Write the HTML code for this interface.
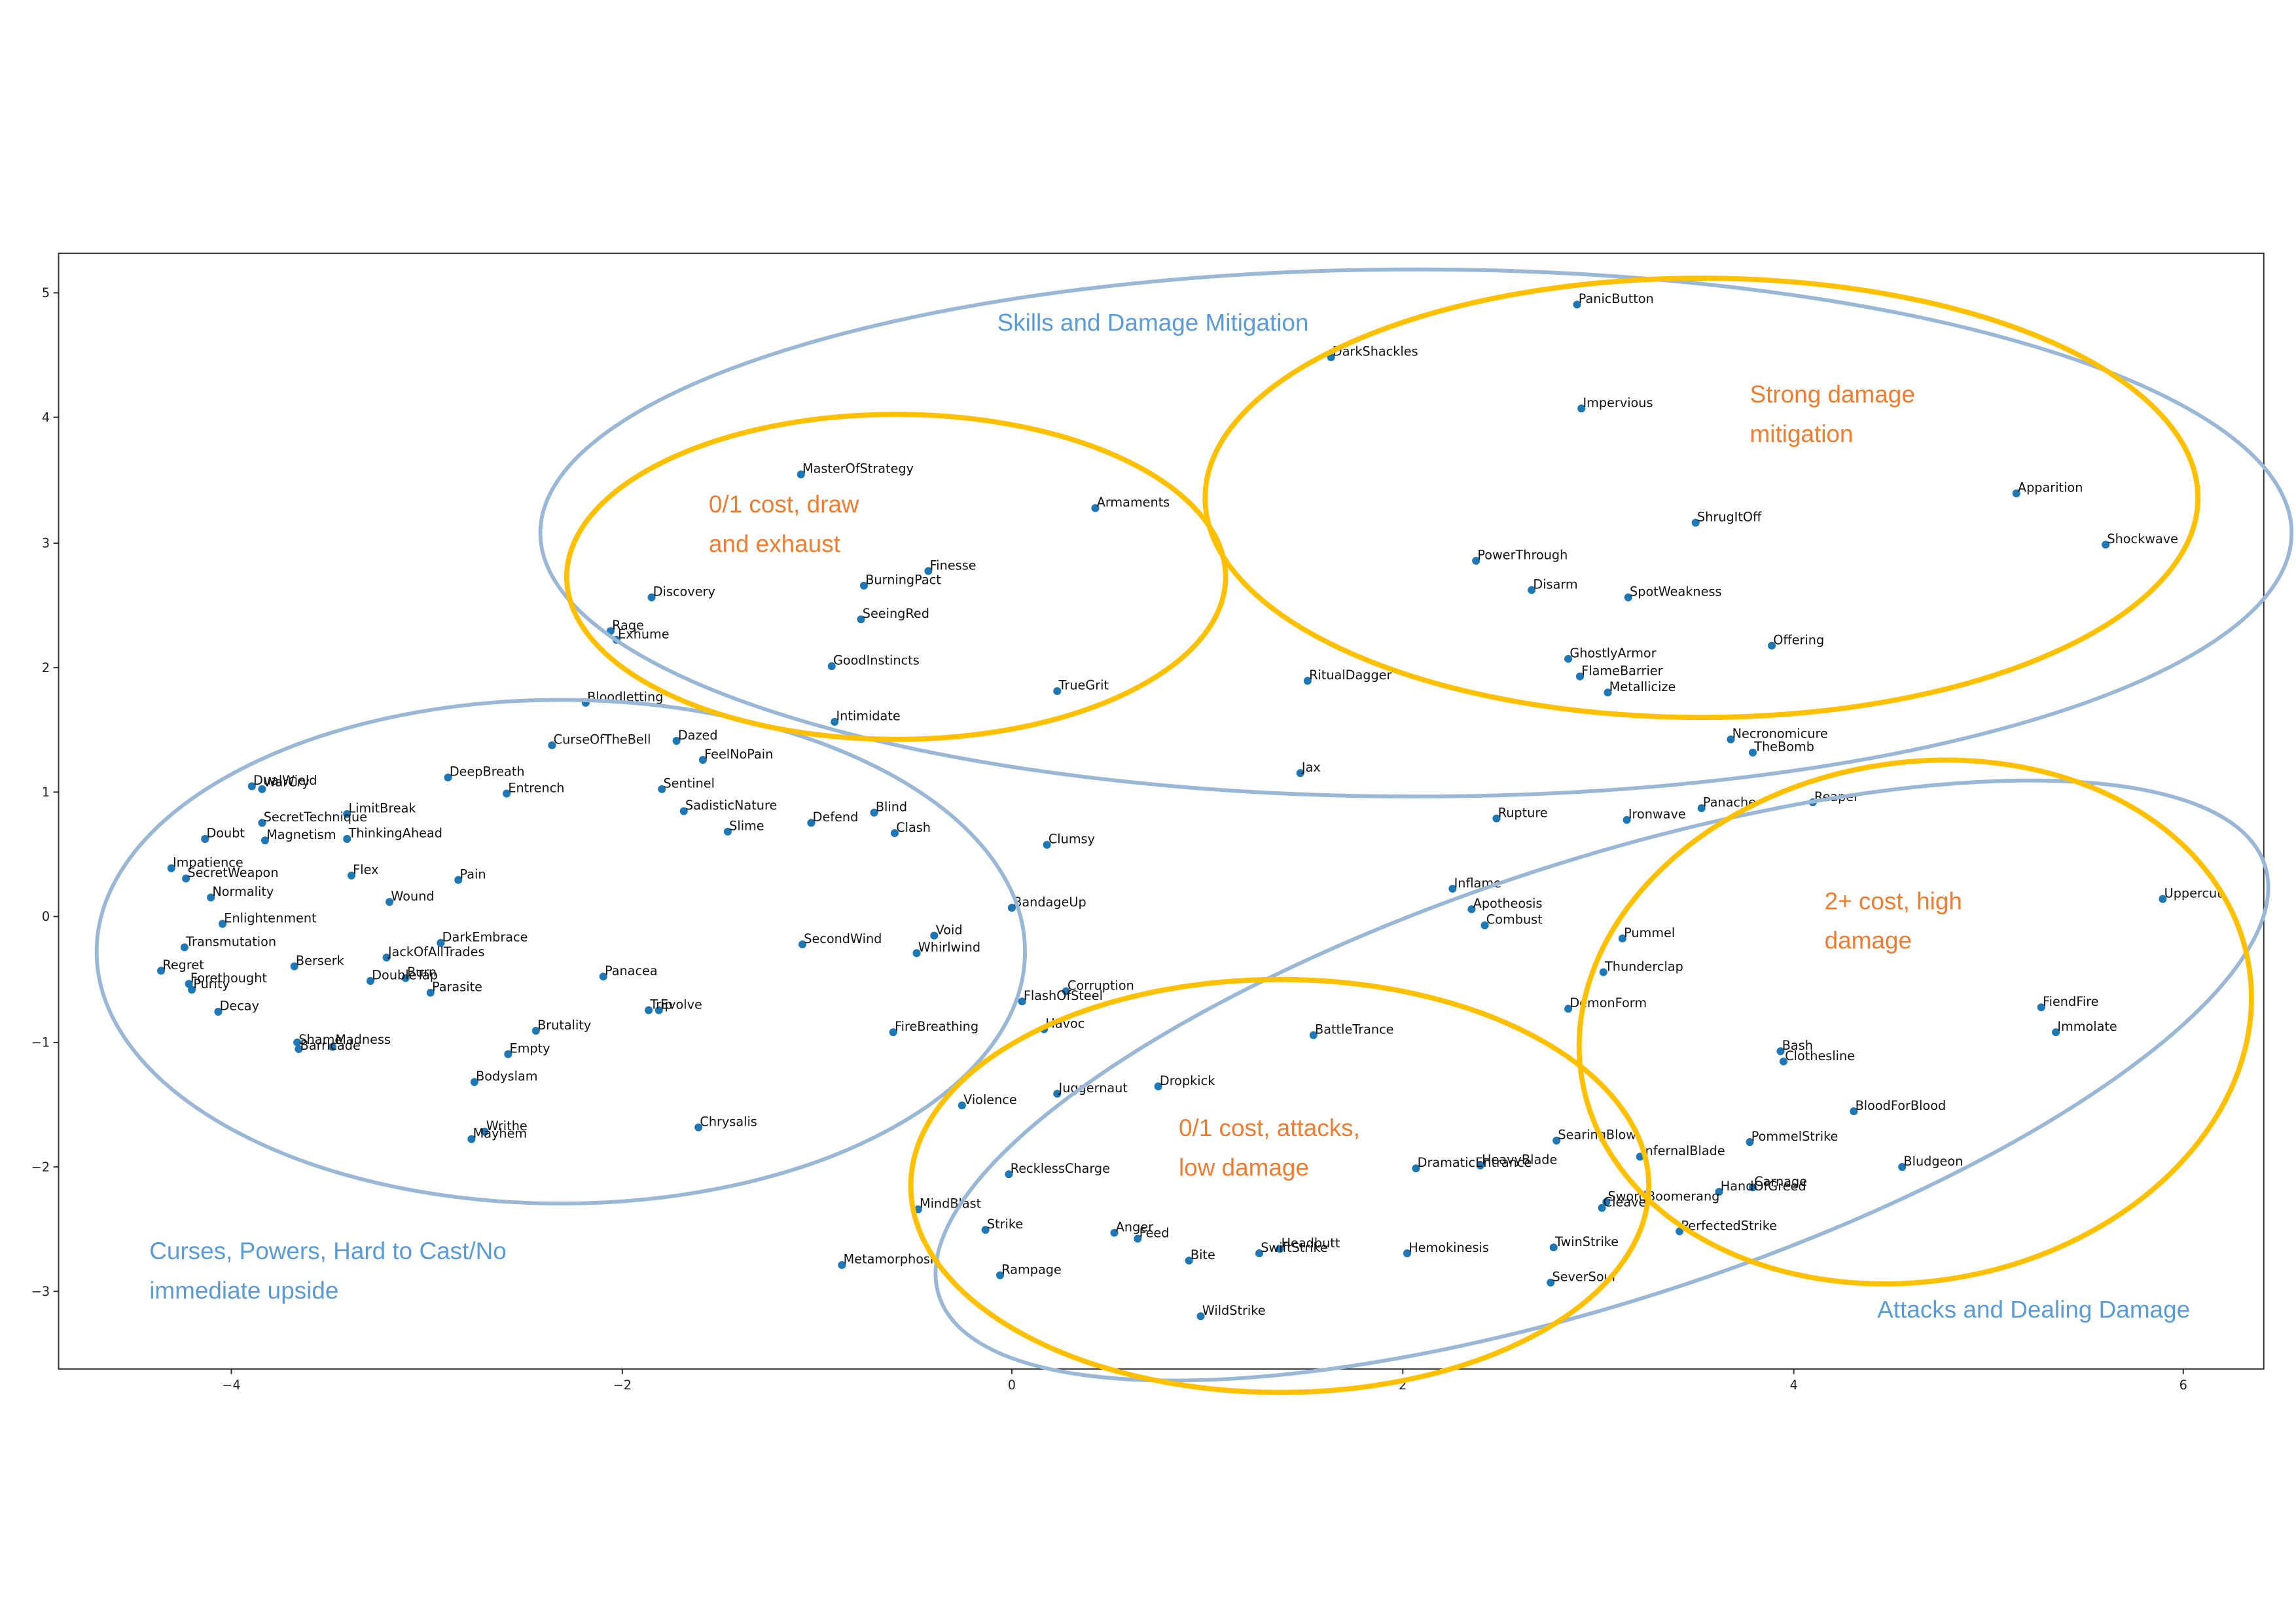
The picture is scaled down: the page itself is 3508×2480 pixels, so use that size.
<!DOCTYPE html>
<html><head><meta charset="utf-8"><style>
html,body{margin:0;padding:0;background:#fff;width:3508px;height:2480px;overflow:hidden}
svg{display:block}
.l{font-family:"DejaVu Sans","Liberation Sans",sans-serif;font-size:8.6px;fill:#111}
.t{font-family:"DejaVu Sans","Liberation Sans",sans-serif;font-size:8.6px;fill:#222}
.a{font-family:"Liberation Sans",sans-serif;font-size:16.5px}
.o{fill:#ed7d31}.b{fill:#5b9bd5}
</style></head><body>
<svg width="3508" height="2480" viewBox="0 0 1568 1108.5" xmlns="http://www.w3.org/2000/svg">
<rect x="0" y="0" width="1568" height="1108.5" fill="#fff"/>
<rect x="40" y="173" width="1506" height="762" fill="none" stroke="#333" stroke-width="0.9"/>
<g stroke="#333" stroke-width="0.9">
<line x1="36.5" y1="200" x2="40" y2="200"/><line x1="36.5" y1="285" x2="40" y2="285"/><line x1="36.5" y1="371" x2="40" y2="371"/><line x1="36.5" y1="456" x2="40" y2="456"/><line x1="36.5" y1="541" x2="40" y2="541"/><line x1="36.5" y1="626" x2="40" y2="626"/><line x1="36.5" y1="712" x2="40" y2="712"/><line x1="36.5" y1="797" x2="40" y2="797"/><line x1="36.5" y1="882" x2="40" y2="882"/>
<line x1="158" y1="935" x2="158" y2="938.5"/><line x1="425" y1="935" x2="425" y2="938.5"/><line x1="691" y1="935" x2="691" y2="938.5"/><line x1="958" y1="935" x2="958" y2="938.5"/><line x1="1225" y1="935" x2="1225" y2="938.5"/><line x1="1491" y1="935" x2="1491" y2="938.5"/>
</g>
<g class="t" text-anchor="end">
<text x="34" y="203">5</text><text x="34" y="288">4</text><text x="34" y="374">3</text><text x="34" y="459">2</text><text x="34" y="544">1</text><text x="34" y="629">0</text><text x="34" y="715">−1</text><text x="34" y="800">−2</text><text x="34" y="885">−3</text>
</g>
<g class="t" text-anchor="middle">
<text x="158" y="949">−4</text><text x="425" y="949">−2</text><text x="691" y="949">0</text><text x="958" y="949">2</text><text x="1225" y="949">4</text><text x="1491" y="949">6</text>
</g>

<g fill="#1f77b4">
<circle cx="1077" cy="208" r="2.7"/><circle cx="909" cy="244" r="2.7"/><circle cx="1080" cy="279" r="2.7"/><circle cx="547" cy="324" r="2.7"/><circle cx="748" cy="347" r="2.7"/><circle cx="1377" cy="337" r="2.7"/><circle cx="1158" cy="357" r="2.7"/><circle cx="1438" cy="372" r="2.7"/><circle cx="1008" cy="383" r="2.7"/><circle cx="634" cy="390" r="2.7"/><circle cx="590" cy="400" r="2.7"/><circle cx="1046" cy="403" r="2.7"/><circle cx="1112" cy="408" r="2.7"/><circle cx="445" cy="408" r="2.7"/><circle cx="588" cy="423" r="2.7"/><circle cx="1210" cy="441" r="2.7"/><circle cx="417" cy="431" r="2.7"/><circle cx="421" cy="437" r="2.7"/><circle cx="1071" cy="450" r="2.7"/><circle cx="568" cy="455" r="2.7"/><circle cx="1079" cy="462" r="2.7"/><circle cx="893" cy="465" r="2.7"/><circle cx="1098" cy="473" r="2.7"/><circle cx="722" cy="472" r="2.7"/><circle cx="400" cy="480" r="2.7"/><circle cx="570" cy="493" r="2.7"/><circle cx="1182" cy="505" r="2.7"/><circle cx="377" cy="509" r="2.7"/><circle cx="462" cy="506" r="2.7"/><circle cx="1197" cy="514" r="2.7"/><circle cx="480" cy="519" r="2.7"/><circle cx="888" cy="528" r="2.7"/><circle cx="306" cy="531" r="2.7"/><circle cx="172" cy="537" r="2.7"/><circle cx="179" cy="539" r="2.7"/><circle cx="452" cy="539" r="2.7"/><circle cx="346" cy="542" r="2.7"/><circle cx="1238" cy="548" r="2.7"/><circle cx="1162" cy="552" r="2.7"/><circle cx="467" cy="554" r="2.7"/><circle cx="237" cy="556" r="2.7"/><circle cx="597" cy="555" r="2.7"/><circle cx="1022" cy="559" r="2.7"/><circle cx="1111" cy="560" r="2.7"/><circle cx="179" cy="562" r="2.7"/><circle cx="554" cy="562" r="2.7"/><circle cx="497" cy="568" r="2.7"/><circle cx="237" cy="573" r="2.7"/><circle cx="611" cy="569" r="2.7"/><circle cx="140" cy="573" r="2.7"/><circle cx="181" cy="574" r="2.7"/><circle cx="715" cy="577" r="2.7"/><circle cx="117" cy="593" r="2.7"/><circle cx="240" cy="598" r="2.7"/><circle cx="127" cy="600" r="2.7"/><circle cx="313" cy="601" r="2.7"/><circle cx="992" cy="607" r="2.7"/><circle cx="144" cy="613" r="2.7"/><circle cx="1477" cy="614" r="2.7"/><circle cx="266" cy="616" r="2.7"/><circle cx="691" cy="620" r="2.7"/><circle cx="1005" cy="621" r="2.7"/><circle cx="152" cy="631" r="2.7"/><circle cx="1014" cy="632" r="2.7"/><circle cx="638" cy="639" r="2.7"/><circle cx="1108" cy="641" r="2.7"/><circle cx="301" cy="644" r="2.7"/><circle cx="548" cy="645" r="2.7"/><circle cx="126" cy="647" r="2.7"/><circle cx="626" cy="651" r="2.7"/><circle cx="264" cy="654" r="2.7"/><circle cx="110" cy="663" r="2.7"/><circle cx="201" cy="660" r="2.7"/><circle cx="1095" cy="664" r="2.7"/><circle cx="412" cy="667" r="2.7"/><circle cx="277" cy="668" r="2.7"/><circle cx="253" cy="670" r="2.7"/><circle cx="129" cy="672" r="2.7"/><circle cx="131" cy="676" r="2.7"/><circle cx="294" cy="678" r="2.7"/><circle cx="728" cy="677" r="2.7"/><circle cx="698" cy="684" r="2.7"/><circle cx="443" cy="690" r="2.7"/><circle cx="450" cy="690" r="2.7"/><circle cx="1071" cy="689" r="2.7"/><circle cx="1394" cy="688" r="2.7"/><circle cx="149" cy="691" r="2.7"/><circle cx="366" cy="704" r="2.7"/><circle cx="610" cy="705" r="2.7"/><circle cx="713" cy="703" r="2.7"/><circle cx="1404" cy="705" r="2.7"/><circle cx="897" cy="707" r="2.7"/><circle cx="203" cy="712" r="2.7"/><circle cx="204" cy="716.5" r="2.7"/><circle cx="227" cy="715" r="2.7"/><circle cx="347" cy="720" r="2.7"/><circle cx="1216" cy="718" r="2.7"/><circle cx="1218" cy="725" r="2.7"/><circle cx="324" cy="739" r="2.7"/><circle cx="791" cy="742" r="2.7"/><circle cx="722" cy="747" r="2.7"/><circle cx="657" cy="755" r="2.7"/><circle cx="1266" cy="759" r="2.7"/><circle cx="477" cy="770" r="2.7"/><circle cx="331" cy="773" r="2.7"/><circle cx="322" cy="778" r="2.7"/><circle cx="1063" cy="779" r="2.7"/><circle cx="1195" cy="780" r="2.7"/><circle cx="1120" cy="790" r="2.7"/><circle cx="967" cy="798" r="2.7"/><circle cx="1011" cy="796" r="2.7"/><circle cx="689" cy="802" r="2.7"/><circle cx="1299" cy="797" r="2.7"/><circle cx="1174" cy="814" r="2.7"/><circle cx="1197" cy="811" r="2.7"/><circle cx="1097" cy="821" r="2.7"/><circle cx="1094" cy="825" r="2.7"/><circle cx="627" cy="826" r="2.7"/><circle cx="1147" cy="841" r="2.7"/><circle cx="673" cy="840" r="2.7"/><circle cx="761" cy="842" r="2.7"/><circle cx="777" cy="846" r="2.7"/><circle cx="1061" cy="852" r="2.7"/><circle cx="874" cy="853" r="2.7"/><circle cx="860" cy="856" r="2.7"/><circle cx="961" cy="856" r="2.7"/><circle cx="812" cy="861" r="2.7"/><circle cx="575" cy="864" r="2.7"/><circle cx="683" cy="871" r="2.7"/><circle cx="1059" cy="876" r="2.7"/><circle cx="820" cy="899" r="2.7"/>
</g>
<g class="l">
<text x="1078" y="207">PanicButton</text><text x="910" y="243">DarkShackles</text><text x="1081" y="278">Impervious</text><text x="548" y="323">MasterOfStrategy</text><text x="749" y="346">Armaments</text><text x="1378" y="336">Apparition</text><text x="1159" y="356">ShrugItOff</text><text x="1439" y="371">Shockwave</text><text x="1009" y="382">PowerThrough</text><text x="635" y="389">Finesse</text><text x="591" y="399">BurningPact</text><text x="1047" y="402">Disarm</text><text x="1113" y="407">SpotWeakness</text><text x="446" y="407">Discovery</text><text x="589" y="422">SeeingRed</text><text x="1211" y="440">Offering</text><text x="418" y="430">Rage</text><text x="422" y="436">Exhume</text><text x="1072" y="449">GhostlyArmor</text><text x="569" y="454">GoodInstincts</text><text x="1080" y="461">FlameBarrier</text><text x="894" y="464">RitualDagger</text><text x="1099" y="472">Metallicize</text><text x="723" y="471">TrueGrit</text><text x="401" y="479">Bloodletting</text><text x="571" y="492">Intimidate</text><text x="1183" y="504">Necronomicure</text><text x="378" y="508">CurseOfTheBell</text><text x="463" y="505">Dazed</text><text x="1198" y="513">TheBomb</text><text x="481" y="518">FeelNoPain</text><text x="889" y="527">Jax</text><text x="307" y="530">DeepBreath</text><text x="173" y="536">DualWield</text><text x="180" y="537">WarCry</text><text x="453" y="538">Sentinel</text><text x="347" y="541">Entrench</text><text x="1239" y="547">Reaper</text><text x="1163" y="551">Panache</text><text x="468" y="553">SadisticNature</text><text x="238" y="555">LimitBreak</text><text x="598" y="554">Blind</text><text x="1023" y="558">Rupture</text><text x="1112" y="559">Ironwave</text><text x="180" y="561">SecretTechnique</text><text x="555" y="561">Defend</text><text x="498" y="567">Slime</text><text x="238" y="572">ThinkingAhead</text><text x="612" y="568">Clash</text><text x="141" y="572">Doubt</text><text x="182" y="573">Magnetism</text><text x="716" y="576">Clumsy</text><text x="118" y="592">Impatience</text><text x="241" y="597">Flex</text><text x="128" y="599">SecretWeapon</text><text x="314" y="600">Pain</text><text x="993" y="606">Inflame</text><text x="145" y="612">Normality</text><text x="1478" y="613">Uppercut</text><text x="267" y="615">Wound</text><text x="692" y="619">BandageUp</text><text x="1006" y="620">Apotheosis</text><text x="153" y="630">Enlightenment</text><text x="1015" y="631">Combust</text><text x="639" y="638">Void</text><text x="1109" y="640">Pummel</text><text x="302" y="643">DarkEmbrace</text><text x="549" y="644">SecondWind</text><text x="127" y="646">Transmutation</text><text x="627" y="650">Whirlwind</text><text x="265" y="653">JackOfAllTrades</text><text x="111" y="662">Regret</text><text x="202" y="659">Berserk</text><text x="1096" y="663">Thunderclap</text><text x="413" y="666">Panacea</text><text x="278" y="667">Burn</text><text x="254" y="669">DoubleTap</text><text x="130" y="671">Forethought</text><text x="132" y="675">Purity</text><text x="295" y="677">Parasite</text><text x="729" y="676">Corruption</text><text x="699" y="683">FlashOfSteel</text><text x="444" y="689">Trip</text><text x="451" y="689">Evolve</text><text x="1072" y="688">DemonForm</text><text x="1395" y="687">FiendFire</text><text x="150" y="690">Decay</text><text x="367" y="703">Brutality</text><text x="611" y="704">FireBreathing</text><text x="714" y="702">Havoc</text><text x="1405" y="704">Immolate</text><text x="898" y="706">BattleTrance</text><text x="204" y="713">Shame</text><text x="205" y="717">Barricade</text><text x="229" y="713">Madness</text><text x="348" y="719">Empty</text><text x="1217" y="717">Bash</text><text x="1219" y="724">Clothesline</text><text x="325" y="738">Bodyslam</text><text x="792" y="741">Dropkick</text><text x="723" y="746">Juggernaut</text><text x="658" y="754">Violence</text><text x="1267" y="758">BloodForBlood</text><text x="478" y="769">Chrysalis</text><text x="332" y="772">Writhe</text><text x="323" y="777">Mayhem</text><text x="1064" y="778">SearingBlow</text><text x="1196" y="779">PommelStrike</text><text x="1121" y="789">InfernalBlade</text><text x="968" y="797">DramaticEntrance</text><text x="1012" y="795">HeavyBlade</text><text x="690" y="801">RecklessCharge</text><text x="1300" y="796">Bludgeon</text><text x="1175" y="813">HandOfGreed</text><text x="1198" y="810">Carnage</text><text x="1098" y="820">SwordBoomerang</text><text x="1095" y="824">Cleave</text><text x="628" y="825">MindBlast</text><text x="1148" y="840">PerfectedStrike</text><text x="674" y="839">Strike</text><text x="762" y="841">Anger</text><text x="778" y="845">Feed</text><text x="1062" y="851">TwinStrike</text><text x="875" y="852">Headbutt</text><text x="861" y="855">SwiftStrike</text><text x="962" y="855">Hemokinesis</text><text x="813" y="860">Bite</text><text x="576" y="863">Metamorphosis</text><text x="684" y="870">Rampage</text><text x="1060" y="875">SeverSoul</text><text x="821" y="898">WildStrike</text>
</g>

<g fill="none">
<ellipse cx="967" cy="364" rx="598" ry="180" stroke="#9ab8d6" stroke-width="2.6"/>
<ellipse cx="383" cy="650" rx="317" ry="172" stroke="#9ab8d6" stroke-width="2.6"/>
<ellipse cx="1094" cy="738" rx="476" ry="150" transform="rotate(-18 1094 738)" stroke="#9ab8d6" stroke-width="2.6"/>
<ellipse cx="612" cy="394" rx="225" ry="111" stroke="#ffc000" stroke-width="3.5"/>
<ellipse cx="1162" cy="340" rx="339" ry="150" stroke="#ffc000" stroke-width="3.5"/>
<ellipse cx="874" cy="810" rx="252" ry="141" stroke="#ffc000" stroke-width="3.5"/>
<ellipse cx="1308" cy="698" rx="231" ry="177" transform="rotate(-10 1308 698)" stroke="#ffc000" stroke-width="3.5"/>
</g>

<g class="a">
<text class="b" x="681" y="226">Skills and Damage Mitigation</text>
<text class="o" x="1195" y="275">Strong damage</text><text class="o" x="1195" y="302">mitigation</text>
<text class="o" x="484" y="350">0/1 cost, draw</text><text class="o" x="484" y="377">and exhaust</text>
<text class="o" x="1246" y="621">2+ cost, high</text><text class="o" x="1246" y="648">damage</text>
<text class="o" x="805" y="776">0/1 cost, attacks,</text><text class="o" x="805" y="803">low damage</text>
<text class="b" x="102" y="860">Curses, Powers, Hard to Cast/No</text><text class="b" x="102" y="887">immediate upside</text>
<text class="b" x="1282" y="900">Attacks and Dealing Damage</text>
</g>
</svg>
</body></html>
